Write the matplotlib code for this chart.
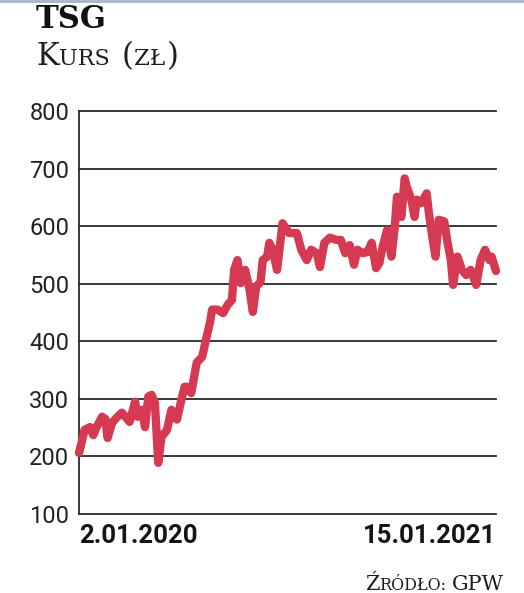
import numpy as np
import matplotlib
matplotlib.use("Agg")
import matplotlib.pyplot as plt
from matplotlib.lines import Line2D

# TSG share price, 2.01.2020 - 15.01.2021
start_date = np.datetime64("2020-01-02")
end_date = np.datetime64("2021-01-15")
day_offsets = [0, 3, 5, 10, 13, 16, 21, 24, 26, 30, 34, 39, 42, 46, 51, 53, 57, 60,
               63, 66, 69, 72, 75, 80, 84, 89, 93, 96, 98, 102, 107, 112, 116, 119,
               121, 126, 131, 135, 139, 141, 144, 147, 151, 155, 158, 161, 165, 167,
               171, 173, 176, 180, 185, 191, 198, 202, 207, 211, 216, 219, 223, 228,
               234, 238, 242, 246, 250, 253, 258, 262, 266, 270, 273, 276, 280, 284,
               287, 289, 293, 296, 298, 302, 305, 307, 311, 316, 318, 321, 324, 327,
               332, 335, 338, 340, 344, 348, 352, 356, 361, 365, 369, 373, 375, 379]
price = [206, 229, 246, 251, 237, 251, 269, 265, 232, 258, 267, 276, 269, 260, 295, 269,
         281, 251, 304, 307, 293, 189, 234, 246, 281, 264, 298, 321, 321, 310, 363, 373,
         408, 432, 455, 455, 449, 463, 472, 524, 541, 501, 524, 490, 451, 495, 503, 541,
         547, 571, 559, 524, 605, 588, 588, 559, 541, 559, 553, 529, 571, 580, 576, 576,
         553, 567, 533, 559, 553, 555, 571, 527, 536, 564, 593, 547, 599, 651, 616, 683,
         668, 646, 616, 646, 640, 657, 623, 582, 547, 611, 608, 571, 541, 498, 547, 524,
         515, 524, 498, 541, 559, 541, 547, 522]
y_ticks = [100, 200, 300, 400, 500, 600, 700, 800]
x_labels = ["2.01.2020", "15.01.2021"]

dates = start_date + np.array(day_offsets).astype("timedelta64[D]")

W, H = 524, 593
fig = plt.figure(figsize=(W / 100, H / 100), dpi=100)
ax = fig.add_axes([79 / W, 1 - 514 / H, (496 - 79) / W, (514 - 111) / H])

sans = ["Roboto", "DejaVu Sans"]
serif = ["DejaVu Serif"]
red = "#d63a52"
dark = "#1e1e1e"

for v in y_ticks[1:]:
    ax.axhline(v, color="#2a2a2a", lw=1.3, clip_on=False, zorder=1)

ax.plot(dates, price, color=red, lw=6, solid_joinstyle="round",
        solid_capstyle="round", clip_on=False, zorder=3)

ax.set_xlim(start_date, end_date)
ax.set_ylim(100, 800)
ax.set_yticks(y_ticks)
ax.set_yticklabels([str(v) for v in y_ticks], family=sans, fontsize=17, color="#222222")
ax.set_xticks([start_date, end_date])
ax.set_xticklabels(x_labels, family=sans, fontsize=18.5, fontweight="bold", color="#151515")
xl = ax.get_xticklabels()
xl[0].set_ha("left")
xl[1].set_ha("right")
ax.tick_params(axis="both", length=0)
ax.tick_params(axis="y", pad=7)
ax.tick_params(axis="x", pad=7)
for s in ["top", "right"]:
    ax.spines[s].set_visible(False)
for s in ["left", "bottom"]:
    ax.spines[s].set_color("#2a2a2a")
    ax.spines[s].set_linewidth(1.3)

# thin border along the top edge
fig.add_artist(Line2D([0, 1], [0.999, 0.999], color="#aab5c3", lw=2, transform=fig.transFigure))

fig.text(36 / W, 1 - 28 / H, "TSG", family=serif, fontsize=22, fontweight="bold",
         color="#111111", va="baseline", ha="left")

renderer = fig.canvas.get_renderer()


def small_caps(x_px, base_px, parts):
    x = x_px
    for s, size, gap in parts:
        t = fig.text(x / W, 1 - base_px / H, s, family=serif, fontsize=size,
                     color=dark, va="baseline", ha="left")
        x += t.get_window_extent(renderer).width + gap


small_caps(36, 65, [("K", 22, 0), ("URS", 16, 12), ("(", 22, 1), ("ZŁ", 16.5, 1), (")", 22, 0)])
small_caps(365, 590, [("Ź", 15, 0), ("RÓDŁO:", 11.5, 5), ("GPW", 15, 0)])

fig.savefig("out.png", dpi=100)
